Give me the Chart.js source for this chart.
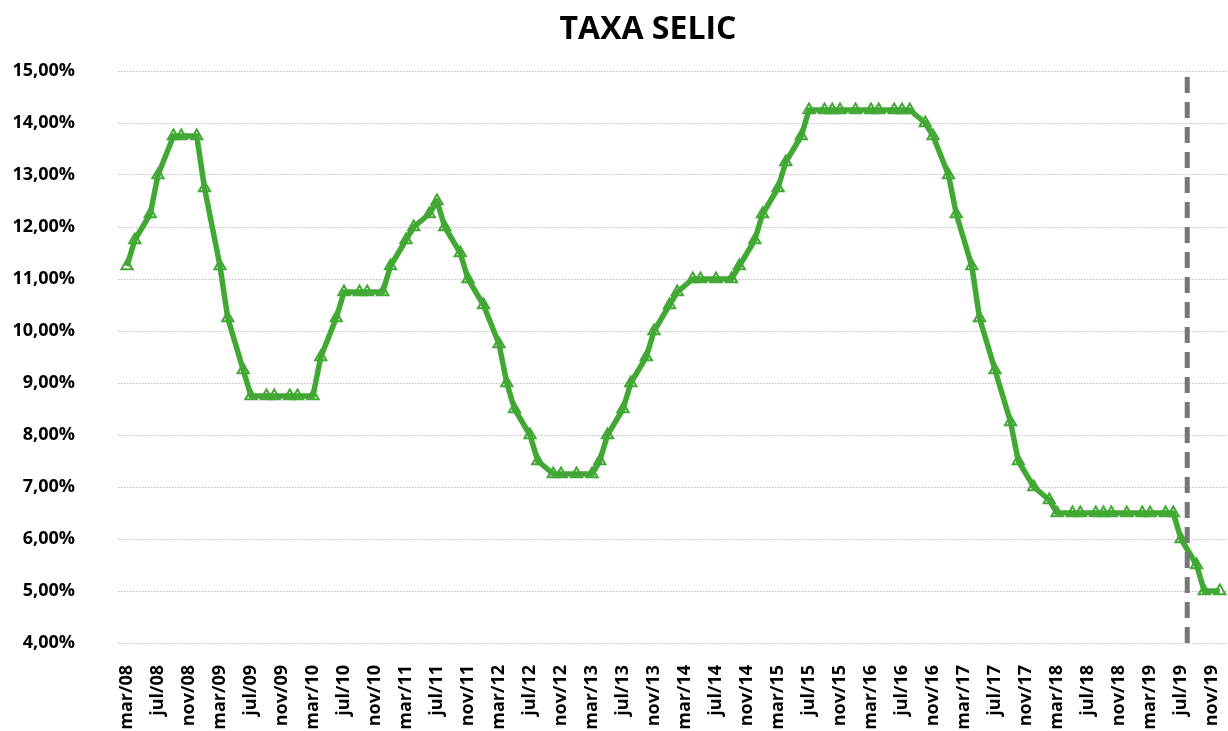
<!DOCTYPE html>
<html>
<head>
<meta charset="utf-8">
<script src="https://cdn.jsdelivr.net/npm/chart.js@4.4.1/dist/chart.umd.min.js"></script>
<style>
  html, body { margin: 0; padding: 0; background: #ffffff; }
  #wrap { width: 1228px; height: 731px; }
</style>
</head>
<body>
<div id="wrap"><canvas id="c" width="1228" height="731"></canvas></div>
<script>
// Copom meeting months (YYYY-MM) and the Selic target rate (%) decided there
const meetingMonths = [
  '2008-03','2008-04','2008-06','2008-07','2008-09','2008-10','2008-12',
  '2009-01','2009-03','2009-04','2009-06','2009-07','2009-09','2009-10','2009-12',
  '2010-01','2010-03','2010-04','2010-06','2010-07','2010-09','2010-10','2010-12',
  '2011-01','2011-03','2011-04','2011-06','2011-07','2011-08','2011-10','2011-11',
  '2012-01','2012-03','2012-04','2012-05','2012-07','2012-08','2012-10','2012-11',
  '2013-01','2013-03','2013-04','2013-05','2013-07','2013-08','2013-10','2013-11',
  '2014-01','2014-02','2014-04','2014-05','2014-07','2014-09','2014-10','2014-12',
  '2015-01','2015-03','2015-04','2015-06','2015-07','2015-09','2015-10','2015-11',
  '2016-01','2016-03','2016-04','2016-06','2016-07','2016-08','2016-10','2016-11',
  '2017-01','2017-02','2017-04','2017-05','2017-07','2017-09','2017-10','2017-12',
  '2018-02','2018-03','2018-05','2018-06','2018-08','2018-09','2018-10','2018-12',
  '2019-02','2019-03','2019-05','2019-06','2019-07','2019-09','2019-10','2019-12'
];
const selic = [
  11.25, 11.75, 12.25, 13.00, 13.75, 13.75, 13.75,
  12.75, 11.25, 10.25, 9.25, 8.75, 8.75, 8.75, 8.75,
  8.75, 8.75, 9.50, 10.25, 10.75, 10.75, 10.75, 10.75,
  11.25, 11.75, 12.00, 12.25, 12.50, 12.00, 11.50, 11.00,
  10.50, 9.75, 9.00, 8.50, 8.00, 7.50, 7.25, 7.25,
  7.25, 7.25, 7.50, 8.00, 8.50, 9.00, 9.50, 10.00,
  10.50, 10.75, 11.00, 11.00, 11.00, 11.00, 11.25, 11.75,
  12.25, 12.75, 13.25, 13.75, 14.25, 14.25, 14.25, 14.25,
  14.25, 14.25, 14.25, 14.25, 14.25, 14.25, 14.00, 13.75,
  13.00, 12.25, 11.25, 10.25, 9.25, 8.25, 7.50, 7.00,
  6.75, 6.50, 6.50, 6.50, 6.50, 6.50, 6.50, 6.50,
  6.50, 6.50, 6.50, 6.50, 6.00, 5.50, 5.00, 5.00
];
// x-axis tick labels, one every 4 months starting mar/08
const tickLabels = [
  'mar/08','jul/08','nov/08','mar/09','jul/09','nov/09','mar/10','jul/10','nov/10',
  'mar/11','jul/11','nov/11','mar/12','jul/12','nov/12','mar/13','jul/13','nov/13',
  'mar/14','jul/14','nov/14','mar/15','jul/15','nov/15','mar/16','jul/16','nov/16',
  'mar/17','jul/17','nov/17','mar/18','jul/18','nov/18','mar/19','jul/19','nov/19'
];
const yTicks = [4, 5, 6, 7, 8, 9, 10, 11, 12, 13, 14, 15];
// vertical dashed marker position, in months after mar/08 (late jul/19)
const markerMonth = 136.8;

const baseYear = 2008, baseMonth = 3;
function monthIndex(s) {
  const [y, m] = s.split('-').map(Number);
  return (y - baseYear) * 12 + (m - baseMonth);
}
const seriesPoints = meetingMonths.map((m, i) => ({ x: monthIndex(m), y: selic[i] }));
const markerPoints = [{ x: markerMonth, y: yTicks[0] }, { x: markerMonth, y: yTicks[yTicks.length - 1] }];

const GREEN = '#41a834';
Chart.defaults.font.family = "'Open Sans', 'DejaVu Sans', sans-serif";

// shift the title's centring box so it is centred like the original
const titleShift = {
  id: 'titleShift',
  afterLayout(chart) {
    if (chart.titleBlock) { chart.titleBlock.left = 68; }
  }
};

new Chart(document.getElementById('c'), {
  type: 'line',
  plugins: [titleShift],
  data: {
    datasets: [
      {
        label: 'marker',
        data: markerPoints,
        borderColor: '#767676',
        borderWidth: 5,
        borderDash: [16, 9],
        borderCapStyle: 'butt',
        pointRadius: 0,
        fill: false,
        order: 0
      },
      {
        label: 'Selic',
        data: seriesPoints,
        borderColor: GREEN,
        borderWidth: 5.5,
        tension: 0,
        borderJoinStyle: 'round',
        pointStyle: 'triangle',
        pointRadius: 6.5,
        pointBorderWidth: 2,
        pointBorderColor: GREEN,
        pointBackgroundColor: 'rgba(255,255,255,0)',
        fill: false,
        order: 1
      }
    ]
  },
  options: {
    responsive: false,
    devicePixelRatio: 1,
    animation: false,
    layout: { autoPadding: false, padding: { left: 0, right: 0, top: 0, bottom: 0 } },
    plugins: {
      legend: { display: false },
      tooltip: { enabled: false },
      title: {
        display: true,
        text: 'TAXA SELIC',
        color: '#000000',
        font: { size: 32, weight: 'bold' },
        padding: { top: 11, bottom: 21.6 }
      }
    },
    scales: {
      x: {
        type: 'linear',
        min: -1.16,
        max: 142.06,
        grid: { display: false, drawTicks: false },
        border: { display: false },
        afterBuildTicks: (scale) => {
          scale.ticks = tickLabels.map((_, i) => ({ value: i * 4 }));
        },
        afterFit: (scale) => {
          scale.height = 88;
          scale.paddingLeft = 0;
          scale.paddingRight = 0;
        },
        ticks: {
          autoSkip: false,
          minRotation: 90,
          maxRotation: 90,
          padding: 22,
          color: '#000000',
          font: { size: 18, weight: 'bold' },
          callback: (v) => tickLabels[Math.round(v / 4)]
        }
      },
      y: {
        type: 'linear',
        min: yTicks[0],
        max: yTicks[yTicks.length - 1],
        grid: { color: '#bdbdbd', lineWidth: 1, drawTicks: false },
        border: { display: false, dash: [1.5, 1.5] },
        afterBuildTicks: (scale) => {
          scale.ticks = yTicks.map(v => ({ value: v }));
        },
        afterFit: (scale) => {
          scale.width = 118;
          scale.paddingTop = 0;
          scale.paddingBottom = 0;
        },
        ticks: {
          padding: 43,
          color: '#000000',
          font: { size: 18, weight: 'bold' },
          callback: (v) => v.toFixed(2).replace('.', ',') + '%'
        }
      }
    }
  }
});
</script>
</body>
</html>
